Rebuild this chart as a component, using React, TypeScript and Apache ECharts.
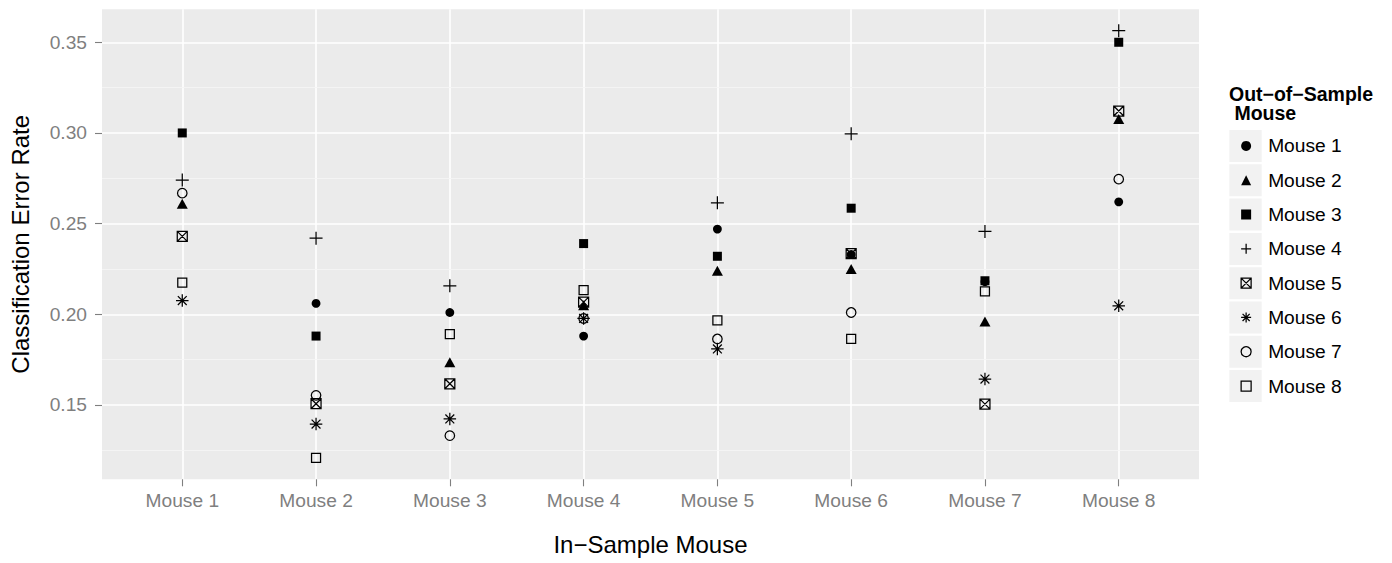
import React, { useEffect, useRef } from "react";
import * as echarts from "echarts";

// In-sample mice (x categories)
const inSampleMice = ["Mouse 1", "Mouse 2", "Mouse 3", "Mouse 4", "Mouse 5", "Mouse 6", "Mouse 7", "Mouse 8"];
// Out-of-sample mice (legend / series)
const outOfSampleMice = ["Mouse 1", "Mouse 2", "Mouse 3", "Mouse 4", "Mouse 5", "Mouse 6", "Mouse 7", "Mouse 8"];

// Classification error rate for each out-of-sample mouse, indexed by in-sample mouse (null = same mouse)
const outMouse1 = [null, 0.206, 0.201, 0.188, 0.247, 0.233, 0.218, 0.262];
const outMouse2 = [0.261, null, 0.1735, 0.205, 0.224, 0.225, 0.196, 0.3077];
const outMouse3 = [0.3, 0.188, null, 0.239, 0.232, 0.2585, 0.2185, 0.35];
const outMouse4 = [0.274, 0.242, 0.2157, null, 0.2615, 0.2995, 0.2457, 0.3564];
const outMouse5 = [0.243, 0.1507, 0.1617, 0.2067, null, 0.2334, 0.1505, 0.3121];
const outMouse6 = [0.2076, 0.1395, 0.1423, 0.1977, 0.1809, null, 0.1643, 0.2047];
const outMouse7 = [0.2668, 0.1553, 0.1331, 0.1977, 0.1864, 0.201, null, 0.2745];
const outMouse8 = [0.2175, 0.1208, 0.1891, 0.2133, 0.1966, 0.1864, 0.2126, null];

const yMajorTicks = [0.15, 0.2, 0.25, 0.3, 0.35];
const yMinorTicks = [0.125, 0.175, 0.225, 0.275, 0.325];

const seriesValues = [outMouse1, outMouse2, outMouse3, outMouse4, outMouse5, outMouse6, outMouse7, outMouse8];

const INK = "#000000";
const FONT = "'Liberation Sans', Arial, Helvetica, sans-serif";

const PLUS = "path://M0,5L10,5M5,0L5,10";
const CROSSED_SQUARE = "path://M0,0L10,0L10,10L0,10ZM0,0L10,10M10,0L0,10";
const ASTERISK = "path://M5,0L5,10M0,5L10,5M1.46,1.46L8.54,8.54M8.54,1.46L1.46,8.54";

const OPEN = { color: "rgba(0,0,0,0)", borderColor: INK, borderWidth: 1.25, opacity: 1 };
const FILLED = { color: INK, opacity: 1 };

const symbolStyles: any[] = [
  { symbol: "circle", symbolSize: 8.8, itemStyle: FILLED },
  { symbol: "triangle", symbolSize: [11, 10], itemStyle: FILLED },
  { symbol: "rect", symbolSize: 9, itemStyle: FILLED },
  { symbol: PLUS, symbolSize: 13, itemStyle: OPEN },
  { symbol: CROSSED_SQUARE, symbolSize: 10, itemStyle: OPEN },
  { symbol: ASTERISK, symbolSize: 12.5, itemStyle: OPEN },
  { symbol: "circle", symbolSize: 9.5, itemStyle: OPEN },
  { symbol: "rect", symbolSize: 9, itemStyle: OPEN },
];

export default function App() {
  const ref = useRef<HTMLDivElement>(null);

  useEffect(() => {
    if (!ref.current) return;
    const chart = echarts.init(ref.current, undefined, { renderer: "svg" });

    const all = seriesValues.flat().filter((v) => v !== null) as number[];
    const lo = Math.min(...all);
    const hi = Math.max(...all);
    const pad = (hi - lo) * 0.05;
    const yMin = lo - pad;
    const yMax = hi + pad;

    const xTickValues = inSampleMice.map((_, i) => i + 1);

    const series = outOfSampleMice.map((name, k) => ({
      type: "scatter",
      name,
      clip: false,
      ...symbolStyles[k],
      emphasis: { disabled: true },
      data: seriesValues[k]
        .map((v, i) => (v === null ? null : [i + 1, v]))
        .filter((d) => d !== null),
    }));

    const keyRects = outOfSampleMice.map((_, i) => ({
      type: "rect",
      left: 1229.3,
      top: 130 + 34.3 * i,
      shape: { width: 32.4, height: 32 },
      style: { fill: "#F2F2F2" },
      z: 0,
      silent: true,
    }));

    chart.setOption({
      animation: false,
      backgroundColor: "#FFFFFF",
      title: {
        text: "Out\u2212of\u2212Sample\n Mouse",
        left: 1229,
        top: 84,
        padding: 0,
        textStyle: { fontFamily: FONT, fontSize: 19.5, fontWeight: "bold", color: "#000", lineHeight: 19.5 },
      },
      legend: {
        orient: "vertical",
        left: 1240.5,
        top: 135.9,
        padding: 0,
        itemWidth: 10,
        itemHeight: 10,
        itemGap: 14.3,
        selectedMode: false,
        data: outOfSampleMice,
        itemStyle: { borderWidth: 1.25, opacity: 1 },
        textStyle: { fontFamily: FONT, fontSize: 19.2, color: "#000", lineHeight: 20, padding: [0, 0, 0, 12] },
      },
      graphic: keyRects,
      grid: {
        left: 101.7,
        right: 1392 - 1199,
        top: 9.3,
        bottom: 563 - 479.3,
        show: true,
        backgroundColor: "#EBEBEB",
        borderWidth: 0,
        containLabel: false,
      },
      xAxis: {
        type: "value",
        min: 0.4,
        max: 8.6,
        name: "In\u2212Sample Mouse",
        nameLocation: "middle",
        nameGap: 53,
        nameTextStyle: { fontFamily: FONT, fontSize: 24, color: "#000" },
        axisLine: { show: false },
        axisTick: { show: true, length: 7, customValues: xTickValues, lineStyle: { color: "#7F7F7F", width: 1.1 } },
        axisLabel: {
          customValues: xTickValues,
          margin: 12,
          fontFamily: FONT,
          fontSize: 19.2,
          color: "#7F7F7F",
          formatter: (v: number) => inSampleMice[Math.round(v) - 1] ?? "",
        },
        splitLine: { show: true, lineStyle: { color: "#FFFFFF", width: 1.6 } },
      },
      yAxis: [
        {
          type: "value",
          min: yMin,
          max: yMax,
          name: "Classification Error Rate",
          nameLocation: "middle",
          nameGap: 70,
          nameTextStyle: { fontFamily: FONT, fontSize: 24, color: "#000" },
          axisLine: { show: false },
          axisTick: { show: true, length: 7, customValues: yMajorTicks, lineStyle: { color: "#7F7F7F", width: 1.1 } },
          axisLabel: {
            customValues: yMajorTicks,
            margin: 15,
            fontFamily: FONT,
            fontSize: 19.2,
            color: "#7F7F7F",
            formatter: (v: number) => v.toFixed(2),
          },
          splitLine: { show: true, lineStyle: { color: "#FFFFFF", width: 1.6 } },
          z: 2,
        },
        {
          type: "value",
          min: yMin,
          max: yMax,
          axisLine: { show: false },
          axisTick: { show: false, customValues: yMinorTicks },
          axisLabel: { show: false, customValues: yMinorTicks },
          splitLine: { show: true, lineStyle: { color: "#F5F5F5", width: 0.9 } },
          z: 1,
        },
      ],
      series,
    });

    return () => chart.dispose();
  }, []);

  return (
    <div
      ref={ref}
      style={{ position: "absolute", left: 0, top: 0, width: 1392, height: 563, background: "#fff" }}
    />
  );
}
